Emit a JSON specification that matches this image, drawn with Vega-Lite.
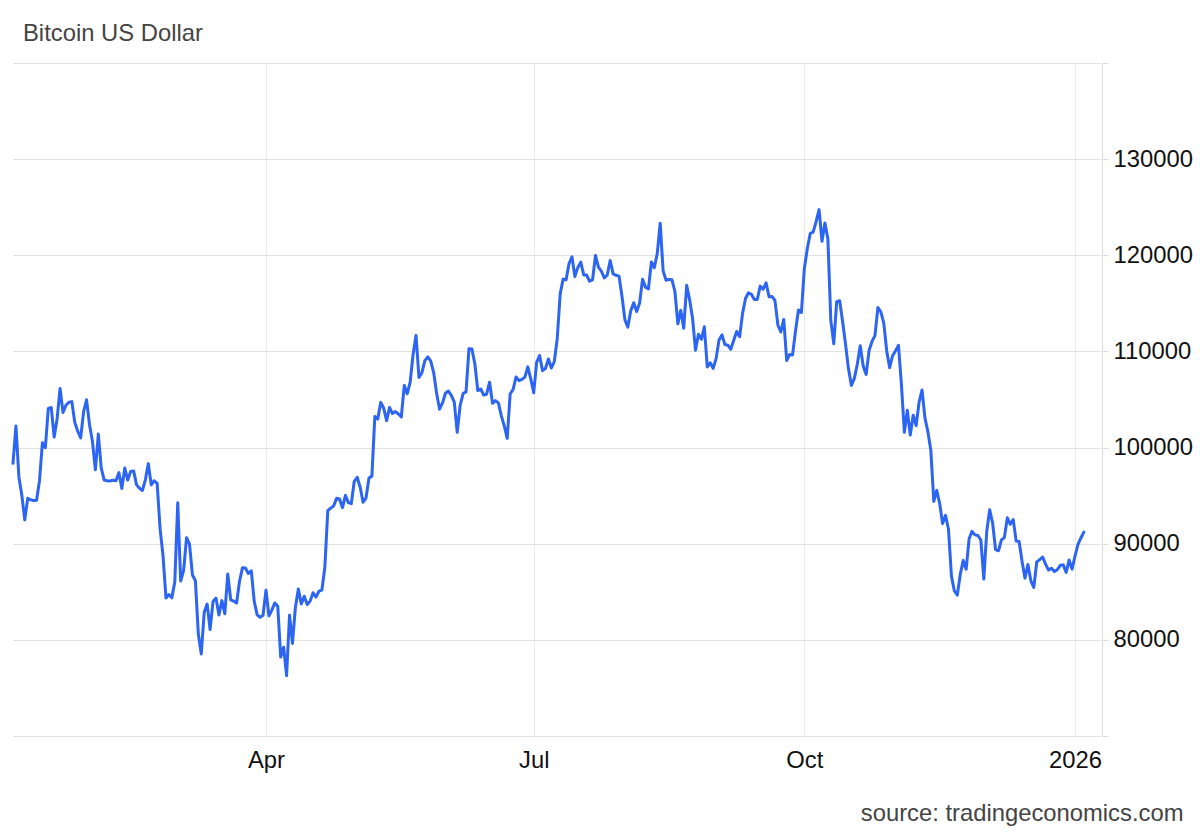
{
"$schema": "https://vega.github.io/schema/vega-lite/v6.json",
"width": 1087, "height": 673,
"autosize": {"type": "none"},
"padding": {"left": 13, "top": 63, "right": 100, "bottom": 96},
"background": "white",
"title": {"text": "Bitcoin US Dollar", "anchor": "start", "frame": "group", "orient": "top", "font": "Liberation Sans", "fontSize": 23.8, "fontWeight": "normal", "color": "#444444", "baseline": "alphabetic", "offset": 23, "dx": 10, "dy": 25},
"config": {"view": {"stroke": null}, "font": "Liberation Sans"},
"data": {"values": [
{"date":"2025-01-05","price":98360},{"date":"2025-01-06","price":102240},{"date":"2025-01-07","price":96950},{"date":"2025-01-08","price":95040},{"date":"2025-01-09","price":92480},{"date":"2025-01-10","price":94720},{"date":"2025-01-11","price":94570},{"date":"2025-01-12","price":94500},{"date":"2025-01-13","price":94510},{"date":"2025-01-14","price":96530},{"date":"2025-01-15","price":100500},{"date":"2025-01-16","price":99990},{"date":"2025-01-17","price":104080},{"date":"2025-01-18","price":104160},{"date":"2025-01-19","price":101090},{"date":"2025-01-20","price":103000},{"date":"2025-01-21","price":106150},{"date":"2025-01-22","price":103650},{"date":"2025-01-23","price":104400},{"date":"2025-01-24","price":104710},{"date":"2025-01-25","price":104780},{"date":"2025-01-26","price":102620},{"date":"2025-01-27","price":101700},{"date":"2025-01-28","price":101000},{"date":"2025-01-29","price":103730},{"date":"2025-01-30","price":104970},{"date":"2025-01-31","price":102400},
{"date":"2025-02-01","price":100650},{"date":"2025-02-02","price":97690},{"date":"2025-02-03","price":101400},{"date":"2025-02-04","price":97870},{"date":"2025-02-05","price":96620},{"date":"2025-02-06","price":96550},{"date":"2025-02-07","price":96530},{"date":"2025-02-08","price":96610},{"date":"2025-02-09","price":96560},{"date":"2025-02-10","price":97400},{"date":"2025-02-11","price":95750},{"date":"2025-02-12","price":97870},{"date":"2025-02-13","price":96620},{"date":"2025-02-14","price":97510},{"date":"2025-02-15","price":97570},{"date":"2025-02-16","price":96120},{"date":"2025-02-17","price":95770},{"date":"2025-02-18","price":95540},{"date":"2025-02-19","price":96640},{"date":"2025-02-20","price":98330},{"date":"2025-02-21","price":96120},{"date":"2025-02-22","price":96550},{"date":"2025-02-23","price":96270},{"date":"2025-02-24","price":91550},{"date":"2025-02-25","price":88740},{"date":"2025-02-26","price":84350},{"date":"2025-02-27","price":84710},{"date":"2025-02-28","price":84370},
{"date":"2025-03-01","price":86030},{"date":"2025-03-02","price":94260},{"date":"2025-03-03","price":86120},{"date":"2025-03-04","price":87220},{"date":"2025-03-05","price":90620},{"date":"2025-03-06","price":89960},{"date":"2025-03-07","price":86740},{"date":"2025-03-08","price":86150},{"date":"2025-03-09","price":80600},{"date":"2025-03-10","price":78530},{"date":"2025-03-11","price":82860},{"date":"2025-03-12","price":83720},{"date":"2025-03-13","price":81070},{"date":"2025-03-14","price":84000},{"date":"2025-03-15","price":84350},{"date":"2025-03-16","price":82580},{"date":"2025-03-17","price":84080},{"date":"2025-03-18","price":82720},{"date":"2025-03-19","price":86850},{"date":"2025-03-20","price":84170},{"date":"2025-03-21","price":84040},{"date":"2025-03-22","price":83830},{"date":"2025-03-23","price":86080},{"date":"2025-03-24","price":87500},{"date":"2025-03-25","price":87470},{"date":"2025-03-26","price":86900},{"date":"2025-03-27","price":87190},{"date":"2025-03-28","price":84000},{"date":"2025-03-29","price":82600},{"date":"2025-03-30","price":82340},{"date":"2025-03-31","price":82550},
{"date":"2025-04-01","price":85170},{"date":"2025-04-02","price":82490},{"date":"2025-04-03","price":83100},{"date":"2025-04-04","price":83840},{"date":"2025-04-05","price":83500},{"date":"2025-04-06","price":78210},{"date":"2025-04-07","price":79240},{"date":"2025-04-08","price":76270},{"date":"2025-04-09","price":82570},{"date":"2025-04-10","price":79630},{"date":"2025-04-11","price":83400},{"date":"2025-04-12","price":85280},{"date":"2025-04-13","price":83740},{"date":"2025-04-14","price":84540},{"date":"2025-04-15","price":83670},{"date":"2025-04-16","price":84030},{"date":"2025-04-17","price":84900},{"date":"2025-04-18","price":84450},{"date":"2025-04-19","price":85060},{"date":"2025-04-20","price":85170},{"date":"2025-04-21","price":87520},{"date":"2025-04-22","price":93440},{"date":"2025-04-23","price":93700},{"date":"2025-04-24","price":93940},{"date":"2025-04-25","price":94720},{"date":"2025-04-26","price":94650},{"date":"2025-04-27","price":93750},{"date":"2025-04-28","price":95030},{"date":"2025-04-29","price":94280},{"date":"2025-04-30","price":94170},
{"date":"2025-05-01","price":96490},{"date":"2025-05-02","price":96910},{"date":"2025-05-03","price":95890},{"date":"2025-05-04","price":94320},{"date":"2025-05-05","price":94750},{"date":"2025-05-06","price":96830},{"date":"2025-05-07","price":97030},{"date":"2025-05-08","price":103240},{"date":"2025-05-09","price":102970},{"date":"2025-05-10","price":104700},{"date":"2025-05-11","price":104110},{"date":"2025-05-12","price":102810},{"date":"2025-05-13","price":104170},{"date":"2025-05-14","price":103540},{"date":"2025-05-15","price":103740},{"date":"2025-05-16","price":103490},{"date":"2025-05-17","price":103190},{"date":"2025-05-18","price":106450},{"date":"2025-05-19","price":105600},{"date":"2025-05-20","price":106790},{"date":"2025-05-21","price":109680},{"date":"2025-05-22","price":111670},{"date":"2025-05-23","price":107290},{"date":"2025-05-24","price":107790},{"date":"2025-05-25","price":109040},{"date":"2025-05-26","price":109430},{"date":"2025-05-27","price":108990},{"date":"2025-05-28","price":107800},{"date":"2025-05-29","price":105640},{"date":"2025-05-30","price":103990},{"date":"2025-05-31","price":104640},
{"date":"2025-06-01","price":105650},{"date":"2025-06-02","price":105880},{"date":"2025-06-03","price":105430},{"date":"2025-06-04","price":104730},{"date":"2025-06-05","price":101580},{"date":"2025-06-06","price":104390},{"date":"2025-06-07","price":105620},{"date":"2025-06-08","price":105790},{"date":"2025-06-09","price":110290},{"date":"2025-06-10","price":110260},{"date":"2025-06-11","price":108690},{"date":"2025-06-12","price":105930},{"date":"2025-06-13","price":106090},{"date":"2025-06-14","price":105470},{"date":"2025-06-15","price":105550},{"date":"2025-06-16","price":106800},{"date":"2025-06-17","price":104600},{"date":"2025-06-18","price":104880},{"date":"2025-06-19","price":104650},{"date":"2025-06-20","price":103300},{"date":"2025-06-21","price":102260},{"date":"2025-06-22","price":100960},{"date":"2025-06-23","price":105580},{"date":"2025-06-24","price":106040},{"date":"2025-06-25","price":107340},{"date":"2025-06-26","price":106960},{"date":"2025-06-27","price":107090},{"date":"2025-06-28","price":107330},{"date":"2025-06-29","price":108390},{"date":"2025-06-30","price":107140},
{"date":"2025-07-01","price":105700},{"date":"2025-07-02","price":108860},{"date":"2025-07-03","price":109580},{"date":"2025-07-04","price":108000},{"date":"2025-07-05","price":108220},{"date":"2025-07-06","price":109220},{"date":"2025-07-07","price":108280},{"date":"2025-07-08","price":108950},{"date":"2025-07-09","price":111330},{"date":"2025-07-10","price":115990},{"date":"2025-07-11","price":117520},{"date":"2025-07-12","price":117440},{"date":"2025-07-13","price":119120},{"date":"2025-07-14","price":119840},{"date":"2025-07-15","price":117780},{"date":"2025-07-16","price":118740},{"date":"2025-07-17","price":119290},{"date":"2025-07-18","price":117960},{"date":"2025-07-19","price":117940},{"date":"2025-07-20","price":117300},{"date":"2025-07-21","price":117440},{"date":"2025-07-22","price":119980},{"date":"2025-07-23","price":118760},{"date":"2025-07-24","price":118360},{"date":"2025-07-25","price":117640},{"date":"2025-07-26","price":117950},{"date":"2025-07-27","price":119450},{"date":"2025-07-28","price":118060},{"date":"2025-07-29","price":117920},{"date":"2025-07-30","price":117830},{"date":"2025-07-31","price":115760},
{"date":"2025-08-01","price":113300},{"date":"2025-08-02","price":112530},{"date":"2025-08-03","price":114220},{"date":"2025-08-04","price":115070},{"date":"2025-08-05","price":114140},{"date":"2025-08-06","price":115030},{"date":"2025-08-07","price":117500},{"date":"2025-08-08","price":116690},{"date":"2025-08-09","price":116500},{"date":"2025-08-10","price":119300},{"date":"2025-08-11","price":118700},{"date":"2025-08-12","price":120170},{"date":"2025-08-13","price":123340},{"date":"2025-08-14","price":118360},{"date":"2025-08-15","price":117400},{"date":"2025-08-16","price":117490},{"date":"2025-08-17","price":117450},{"date":"2025-08-18","price":116250},{"date":"2025-08-19","price":112870},{"date":"2025-08-20","price":114270},{"date":"2025-08-21","price":112420},{"date":"2025-08-22","price":116870},{"date":"2025-08-23","price":115370},{"date":"2025-08-24","price":113460},{"date":"2025-08-25","price":110120},{"date":"2025-08-26","price":111790},{"date":"2025-08-27","price":111260},{"date":"2025-08-28","price":112560},{"date":"2025-08-29","price":108380},{"date":"2025-08-30","price":108820},{"date":"2025-08-31","price":108240},
{"date":"2025-09-01","price":109250},{"date":"2025-09-02","price":111200},{"date":"2025-09-03","price":111720},{"date":"2025-09-04","price":110720},{"date":"2025-09-05","price":110650},{"date":"2025-09-06","price":110220},{"date":"2025-09-07","price":111170},{"date":"2025-09-08","price":112070},{"date":"2025-09-09","price":111530},{"date":"2025-09-10","price":113960},{"date":"2025-09-11","price":115500},{"date":"2025-09-12","price":116100},{"date":"2025-09-13","price":115950},{"date":"2025-09-14","price":115400},{"date":"2025-09-15","price":115410},{"date":"2025-09-16","price":116790},{"date":"2025-09-17","price":116470},{"date":"2025-09-18","price":117140},{"date":"2025-09-19","price":115690},{"date":"2025-09-20","price":115720},{"date":"2025-09-21","price":115310},{"date":"2025-09-22","price":112750},{"date":"2025-09-23","price":112020},{"date":"2025-09-24","price":113330},{"date":"2025-09-25","price":109050},{"date":"2025-09-26","price":109680},{"date":"2025-09-27","price":109640},{"date":"2025-09-28","price":112140},{"date":"2025-09-29","price":114310},{"date":"2025-09-30","price":114050},
{"date":"2025-10-01","price":118630},{"date":"2025-10-02","price":120680},{"date":"2025-10-03","price":122270},{"date":"2025-10-04","price":122400},{"date":"2025-10-05","price":123510},{"date":"2025-10-06","price":124750},{"date":"2025-10-07","price":121450},{"date":"2025-10-08","price":123350},{"date":"2025-10-09","price":121700},{"date":"2025-10-10","price":113210},{"date":"2025-10-11","price":110800},{"date":"2025-10-12","price":115170},{"date":"2025-10-13","price":115270},{"date":"2025-10-14","price":113120},{"date":"2025-10-15","price":110760},{"date":"2025-10-16","price":108190},{"date":"2025-10-17","price":106470},{"date":"2025-10-18","price":107200},{"date":"2025-10-19","price":108670},{"date":"2025-10-20","price":110590},{"date":"2025-10-21","price":108480},{"date":"2025-10-22","price":107600},{"date":"2025-10-23","price":110090},{"date":"2025-10-24","price":111040},{"date":"2025-10-25","price":111650},{"date":"2025-10-26","price":114560},{"date":"2025-10-27","price":114120},{"date":"2025-10-28","price":112940},{"date":"2025-10-29","price":110050},{"date":"2025-10-30","price":108310},{"date":"2025-10-31","price":109560},
{"date":"2025-11-01","price":110060},{"date":"2025-11-02","price":110640},{"date":"2025-11-03","price":106550},{"date":"2025-11-04","price":101590},{"date":"2025-11-05","price":103890},{"date":"2025-11-06","price":101300},{"date":"2025-11-07","price":103370},{"date":"2025-11-08","price":102280},{"date":"2025-11-09","price":104720},{"date":"2025-11-10","price":105990},{"date":"2025-11-11","price":103060},{"date":"2025-11-12","price":101650},{"date":"2025-11-13","price":99690},{"date":"2025-11-14","price":94400},{"date":"2025-11-15","price":95550},{"date":"2025-11-16","price":94180},{"date":"2025-11-17","price":92090},{"date":"2025-11-18","price":92950},{"date":"2025-11-19","price":91480},{"date":"2025-11-20","price":86630},{"date":"2025-11-21","price":85090},{"date":"2025-11-22","price":84650},{"date":"2025-11-23","price":86810},{"date":"2025-11-24","price":88270},{"date":"2025-11-25","price":87340},{"date":"2025-11-26","price":90510},{"date":"2025-11-27","price":91280},{"date":"2025-11-28","price":90920},{"date":"2025-11-29","price":90850},{"date":"2025-11-30","price":90390},
{"date":"2025-12-01","price":86320},{"date":"2025-12-02","price":91280},{"date":"2025-12-03","price":93530},{"date":"2025-12-04","price":92140},{"date":"2025-12-05","price":89390},{"date":"2025-12-06","price":89270},{"date":"2025-12-07","price":90400},{"date":"2025-12-08","price":90640},{"date":"2025-12-09","price":92690},{"date":"2025-12-10","price":92020},{"date":"2025-12-11","price":92510},{"date":"2025-12-12","price":90270},{"date":"2025-12-13","price":90240},{"date":"2025-12-14","price":88170},{"date":"2025-12-15","price":86420},{"date":"2025-12-16","price":87840},{"date":"2025-12-17","price":86140},{"date":"2025-12-18","price":85460},{"date":"2025-12-19","price":88100},{"date":"2025-12-20","price":88340},{"date":"2025-12-21","price":88620},{"date":"2025-12-22","price":87880},{"date":"2025-12-23","price":87260},{"date":"2025-12-24","price":87450},{"date":"2025-12-25","price":87120},{"date":"2025-12-26","price":87300},{"date":"2025-12-27","price":87750},{"date":"2025-12-28","price":87800},{"date":"2025-12-29","price":87020},{"date":"2025-12-30","price":88300},{"date":"2025-12-31","price":87360},
{"date":"2026-01-01","price":88700},{"date":"2026-01-02","price":89900},{"date":"2026-01-03","price":90600},{"date":"2026-01-04","price":91200}
]},
"mark": {"type": "line", "color": "#2c64f4", "strokeWidth": 3, "strokeJoin": "round", "strokeCap": "round"},
"encoding": {
  "x": {"field": "date", "type": "temporal",
    "scale": {"type": "utc", "domain": [{"year": 2025, "month": 1, "date": 5, "utc": true}, {"year": 2026, "month": 1, "date": 9, "hours": 12, "utc": true}]},
    "axis": {
      "values": [{"year": 2025, "month": 4, "date": 1, "utc": true}, {"year": 2025, "month": 7, "date": 1, "utc": true}, {"year": 2025, "month": 10, "date": 1, "utc": true}, {"year": 2026, "month": 1, "date": 1, "utc": true}],
      "labelExpr": "utcmonth(datum.value) == 0 ? utcFormat(datum.value, '%Y') : utcFormat(datum.value, '%b')",
      "grid": true, "gridColor": "#e4ecf0", "gridWidth": 1,
      "domain": false, "ticks": false, "tickSize": 0,
      "labelFont": "Liberation Sans", "labelFontSize": 23.8, "labelColor": "#111111",
      "labelBaseline": "alphabetic", "labelPadding": 31.7, "labelFlush": false, "labelOverlap": false,
      "title": "source: tradingeconomics.com", "titleAnchor": "end", "titleAlign": "right",
      "titleX": 1170, "titleY": 84.7, "titleBaseline": "alphabetic",
      "titleFont": "Liberation Sans", "titleFontSize": 23.8, "titleFontWeight": "normal", "titleColor": "#444444"
    }
  },
  "y": {"field": "price", "type": "quantitative",
    "scale": {"domain": [70000, 140000], "nice": false, "zero": false},
    "axis": {
      "orient": "right",
      "values": [70000, 80000, 90000, 100000, 110000, 120000, 130000, 140000],
      "labelExpr": "datum.value == 70000 || datum.value == 140000 ? '' : format(datum.value, 'd')",
      "grid": true, "gridColor": "#e2e2e2", "gridWidth": 1,
      "domain": true, "domainColor": "#dddddd", "offset": 2,
      "ticks": true, "tickColor": "#dddddd", "tickSize": 6,
      "labelPadding": 5, "labelFont": "Liberation Sans", "labelFontSize": 23.8, "labelColor": "#111111",
      "title": null
    }
  }
}
}
